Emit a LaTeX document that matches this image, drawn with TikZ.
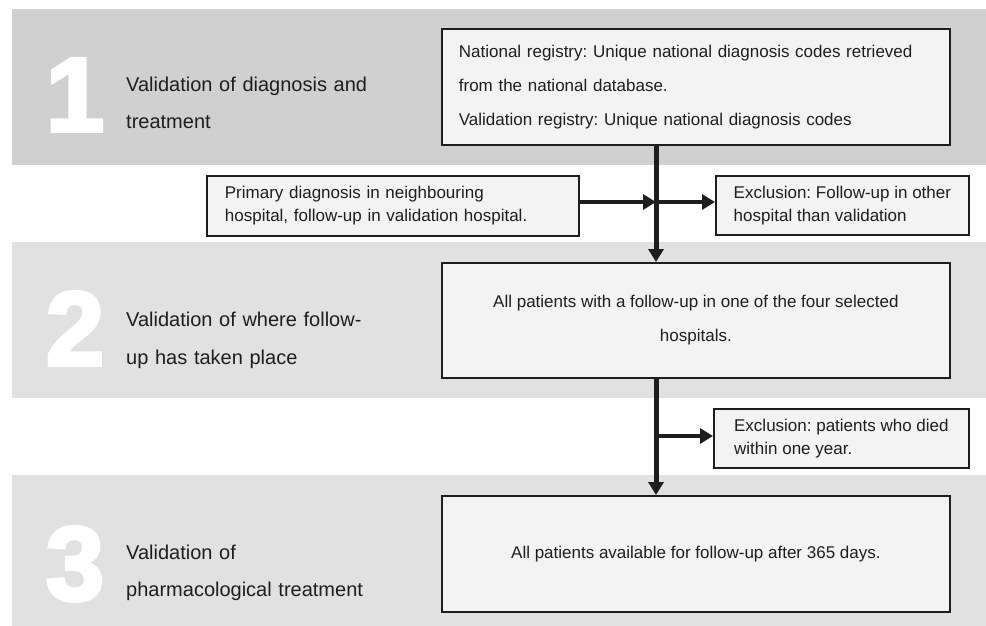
\documentclass[tikz,border=0pt]{standalone}
\usepackage{fontspec}
\setmainfont{Liberation Sans}
\newfontface\bignum{Liberation Sans Bold}[FakeBold=3.5]
\usetikzlibrary{arrows.meta}
\definecolor{bandA}{HTML}{CFD0CF}
\definecolor{bandB}{HTML}{E1E1E1}
\definecolor{boxfill}{HTML}{F3F3F3}
\definecolor{ink}{HTML}{1E1E1E}
\frenchspacing
\tikzset{
  box/.style={draw=ink, line width=1.8pt, fill=boxfill, text=ink, inner ysep=0pt, anchor=north west},
  bigfont/.style={font=\fontsize{17pt}{34pt}\selectfont},
  smallfont/.style={font=\fontsize{17pt}{23pt}\selectfont},
  steplabel/.style={text=ink, inner sep=0pt, anchor=base west, text width=320pt, align=left,
    font=\fontsize{20pt}{37pt}\selectfont},
  bignumber/.style={text=white, inner sep=0pt, anchor=base, font=\fontsize{105pt}{105pt}\bignum},
  arr/.style={draw=ink, line width=4.5pt, -{Triangle[length=13pt,width=15pt]}},
}
\begin{document}
\begin{tikzpicture}[x=1pt,y=-1pt]
\useasboundingbox (0,0) rectangle (986,626);
% bands
\fill[bandA] (12,9) rectangle (986,165);
\fill[bandB] (12,242) rectangle (986,398);
\fill[bandB] (12,475) rectangle (986,626);
% big numbers
\node[bignumber] (n1) at (75,131) {1};
\node[bignumber] (n2) at (75,365) {2};
\node[bignumber] (n3) at (75,600) {3};
% step labels
\node[steplabel] (l1) at (126,92) {Validation of diagnosis and\\treatment};
\node[steplabel, font=\fontsize{20pt}{38pt}\selectfont] (l2) at (126,326) {Validation of where follow-\\up has taken place};
\node[steplabel] (l3) at (126,559) {Validation of\\pharmacological treatment};
% boxes
\node[box, bigfont, inner xsep=17pt, text width=474pt, minimum height=116pt, align=left] (b1) at (441,28)
  {National registry: Unique national diagnosis codes retrieved\\from the national database.\\Validation registry: Unique national diagnosis codes};
\node[box, bigfont, inner xsep=17pt, minimum width=508pt, minimum height=115pt, align=center] (b2) at (441,262)
  {All patients with a follow-up in one of the four selected\\hospitals.};
\node[box, bigfont, inner xsep=17pt, minimum width=508pt, minimum height=116pt, align=center] (b3) at (441,495)
  {All patients available for follow-up after 365 days.};
\node[box, smallfont, inner xsep=18pt, text width=336pt, minimum height=60pt, align=left] (prim) at (206,175)
  {Primary diagnosis in neighbouring\\hospital, follow-up in validation hospital.};
\node[box, smallfont, inner xsep=14pt, minimum width=253pt, minimum height=59pt, align=left] (ex1) at (715,175)
  {Exclusion: Follow-up in other\\hospital than validation};
\node[box, smallfont, inner xsep=14pt, minimum width=255pt, minimum height=59pt, align=left] (ex2) at (713,408)
  {Exclusion: patients who died\\within one year.};
% junctions on the main line
\coordinate (j1) at (656,202);
\coordinate (j2) at (656,436);
% connectors
\draw[arr, line width=5pt] (b1.south -| j1) -- (b2.north -| j1);
\draw[arr] (prim.east |- j1) -- (j1);
\draw[arr] (j1) -- (ex1.west |- j1);
\draw[arr, line width=5pt] (b2.south -| j2) -- (b3.north -| j2);
\draw[arr] (j2) -- (ex2.west |- j2);
\end{tikzpicture}
\end{document}
